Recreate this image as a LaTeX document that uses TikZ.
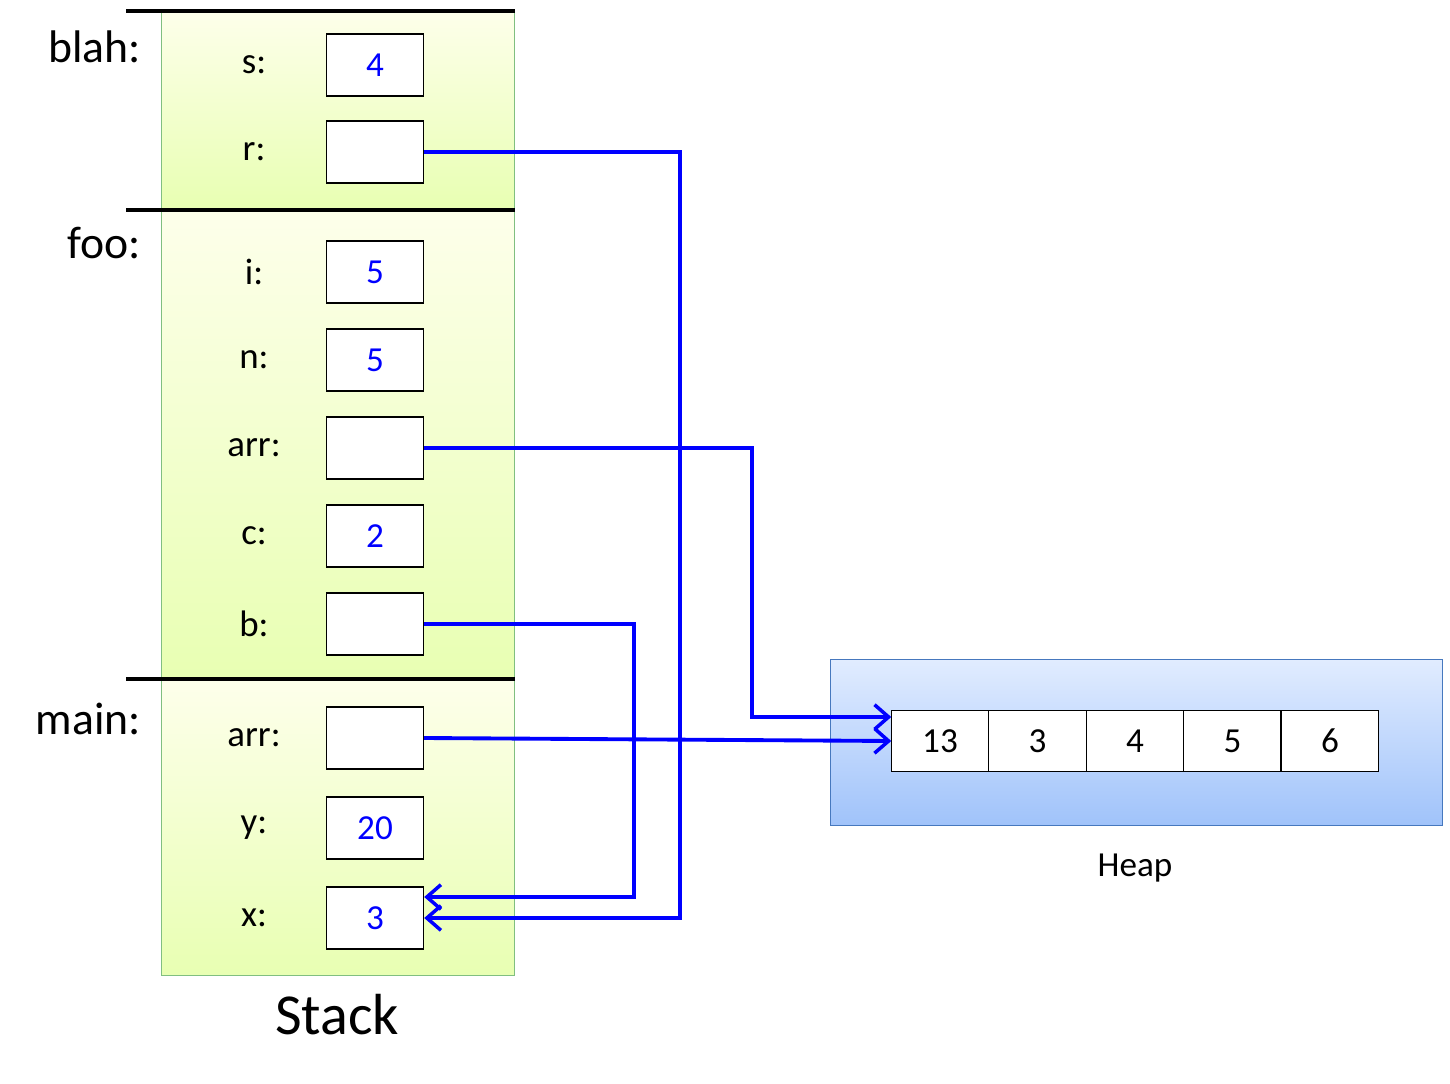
\documentclass[tikz,border=0pt]{standalone}
\usepackage{fontspec}
\setmainfont{Carlito}
\usetikzlibrary{arrows.meta}
\definecolor{heaptop}{RGB}{225,236,255}
\definecolor{heapbot}{RGB}{160,195,250}
\definecolor{heapline}{RGB}{70,120,190}

\tikzset{
  slot/.style={draw, thick, fill=white, minimum width=1.94cm, minimum height=1.24cm, inner sep=0pt, font=\fontsize{20}{24}\selectfont, text=blue},
  cell/.style={draw, thick, fill=white, minimum width=1.95cm, minimum height=1.22cm, inner sep=0pt, outer sep=0pt, font=\fontsize{20}{24}\selectfont},
  var/.style={font=\fontsize{21}{25}\selectfont},
  frame/.style={font=\fontsize{26}{30}\selectfont, anchor=east},
  ptr/.style={draw=blue, line width=2.2pt},
  ptrtip/.style={ptr, -{Straight Barb[length=8pt, width=14pt, line width=2pt]}}
}

\begin{document}
\begin{tikzpicture}[x=0.02cm, y=-0.02cm]
\useasboundingbox (0,0) rectangle (1450,1084);

% stack frames
\shade[top color=green!8!yellow!8, bottom color=green!30!yellow!30, draw=green!50!black!50] (161,10) rectangle (514,208);
\shade[top color=green!8!yellow!8, bottom color=green!30!yellow!30, draw=green!50!black!50] (161,210) rectangle (514,678);
\shade[top color=green!8!yellow!8, bottom color=green!30!yellow!30, draw=green!50!black!50] (161,680) rectangle (514,975);
\draw[line width=2pt] (126,11) -- (515,11);
\draw[line width=2pt] (126,210) -- (515,210);
\draw[line width=2pt] (126,679) -- (515,679);

\node[frame] (fblah) at (147,47) {blah:};
\node[frame] (ffoo) at (147,243) {foo:};
\node[frame] (fmain) at (147,719) {main:};

% slots
\foreach \name/\lab/\val/\y in {s/s:/4/65, r/r:/{}/152, i/i:/5/272, n/n:/5/360, arr/arr:/{}/448, c/c:/2/536, b/b:/{}/624, marr/arr:/{}/738, y/y:/20/828, x/x:/3/918}{
  \node[var] (l\name) at (254,\y) {\lab};
  \node[slot] (\name) at (375,\y) {\val};
}

\node[font=\fontsize{33}{38}\selectfont] (stack) at (337,1015) {Stack};

% heap
\shade[top color=heaptop, bottom color=heapbot, draw=heapline] (830,659) rectangle (1442,825);
\node[cell] (h1) at (940,741) {13};
\foreach \v [count=\k from 2, remember=\k as \p (initially 1)] in {3,4,5,6}
  \node[cell, anchor=west] (h\k) at (h\p.east) {\v};
\node[font=\fontsize{20}{24}\selectfont] (heap) at (1135,868) {Heap};

% pointers
\coordinate (xin1) at ([yshift=0.42cm]x.east);
\coordinate (xin2) at (x.east);
\draw[ptrtip] (r.east) -- ++(256,0) |- (xin2);
\draw[ptrtip] (b.east) -- ++(210,0) |- (xin1);
\draw[ptrtip] (arr.east) -- ++(328,0) |- ([yshift=0.48cm]h1.west);
\draw[ptrtip] (marr.east) -- (h1.west);
\end{tikzpicture}
\end{document}
